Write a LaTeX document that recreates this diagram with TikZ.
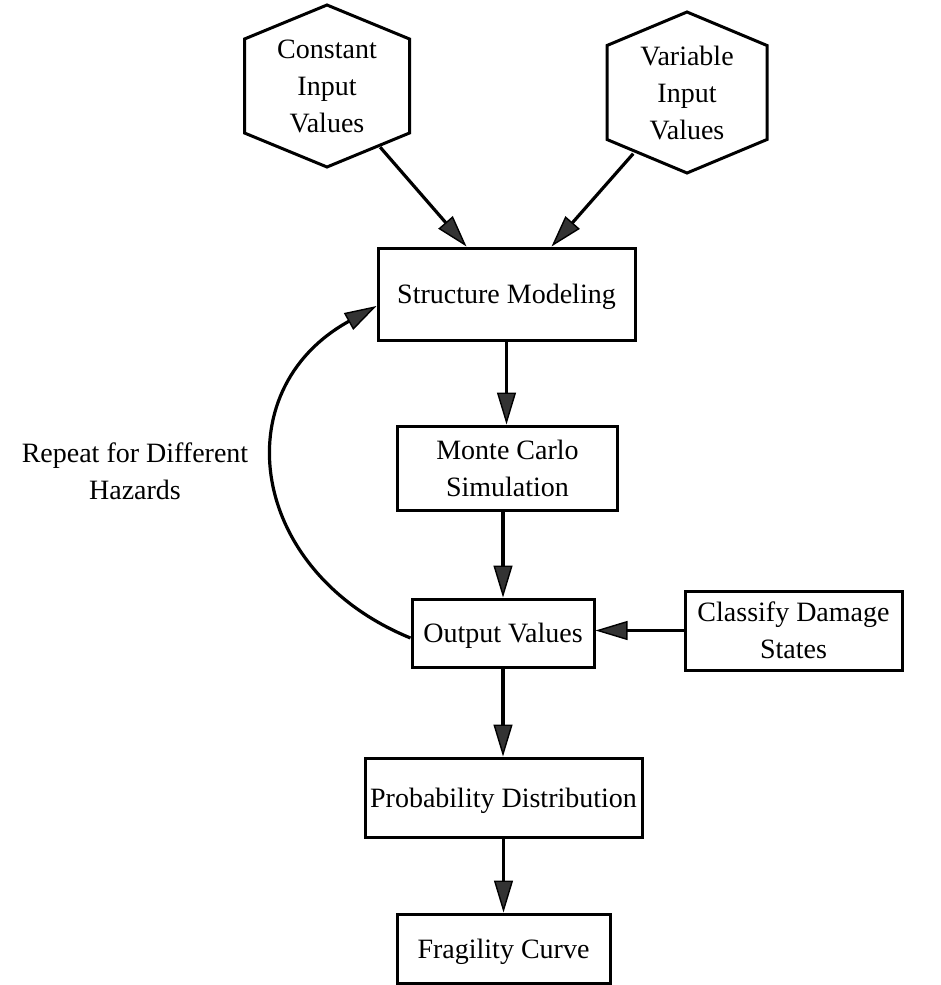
\documentclass[tikz,border=0pt]{standalone}
\usepackage{fontspec}
\setmainfont{Liberation Serif}
\usetikzlibrary{arrows.meta,calc}
\newcommand\diafont{\fontsize{28}{37}\selectfont}
\begin{document}
\begin{tikzpicture}[x=1pt,y=-1pt,
  box/.style={draw=black,line width=3pt,rectangle,inner sep=0pt,align=center,font=\diafont,text depth=0pt},
  hexin/.style={rectangle,inner sep=0pt,align=center,font=\diafont,text depth=0pt,minimum width=165pt,minimum height=122pt},
  hexline/.style={draw=black,line width=3pt,line join=miter},
  lbl/.style={align=center,font=\diafont,text depth=0pt,inner sep=0pt},
  arr/.style={line width=3.2pt,-{Triangle[length=32pt,width=19pt,line width=1.4pt,fill=black!80]}}
]
\useasboundingbox (0,0) rectangle (940,985);

% hexagonal inputs
\node[hexin] (cst) at (327,86) {Constant\\Input\\Values};
\draw[hexline] ($(cst.center)+(0,-81)$) -- ($(cst.center)+(82.5,-47)$) -- ($(cst.center)+(82.5,47)$)
  -- ($(cst.center)+(0,81)$) -- ($(cst.center)+(-82.5,47)$) -- ($(cst.center)+(-82.5,-47)$) -- cycle;
\node[hexin] (var) at (687,92.5) {Variable\\Input\\Values};
\draw[hexline] ($(var.center)+(0,-80.5)$) -- ($(var.center)+(80,-47)$) -- ($(var.center)+(80,47)$)
  -- ($(var.center)+(0,80.5)$) -- ($(var.center)+(-80,47)$) -- ($(var.center)+(-80,-47)$) -- cycle;

% process boxes
\node[box,minimum width=257pt,minimum height=92pt] (sm) at (506.5,294) {Structure Modeling};
\node[box,minimum width=220pt,minimum height=84pt] (mc) at (507.5,468) {Monte Carlo\\Simulation};
\node[box,minimum width=182pt,minimum height=68pt] (ov) at (503,633) {Output Values};
\node[box,minimum width=217pt,minimum height=79pt] (cds) at (793.5,630.5) {Classify Damage\\States};
\node[box,minimum width=277pt,minimum height=79pt] (pd) at (503.5,797.5) {Probability Distribution};
\node[box,minimum width=213pt,minimum height=69pt] (fc) at (503.5,948.5) {Fragility Curve};

\node[lbl] (rep) at (135,471) {Repeat for Different\\Hazards};

% connectors
\draw[arr] (cst) -- ($(sm.north)+(-40,0)$);
\draw[arr] (var) -- ($(sm.north)+(45,0)$);
\draw[arr] (sm.south) -- (sm.south |- mc.north);
\draw[arr] (ov.north |- mc.south) -- (ov.north);
\draw[arr] (cds.west) -- (cds.west -| ov.east);
\draw[arr] (ov.south) -- (ov.south |- pd.north);
\draw[arr] (pd.south) -- (pd.south |- fc.north);
\draw[arr] ($(ov.west)+(0,5)$) .. controls (249,572) and (223,391) .. ($(sm.west)+(0,12)$);
\end{tikzpicture}
\end{document}
